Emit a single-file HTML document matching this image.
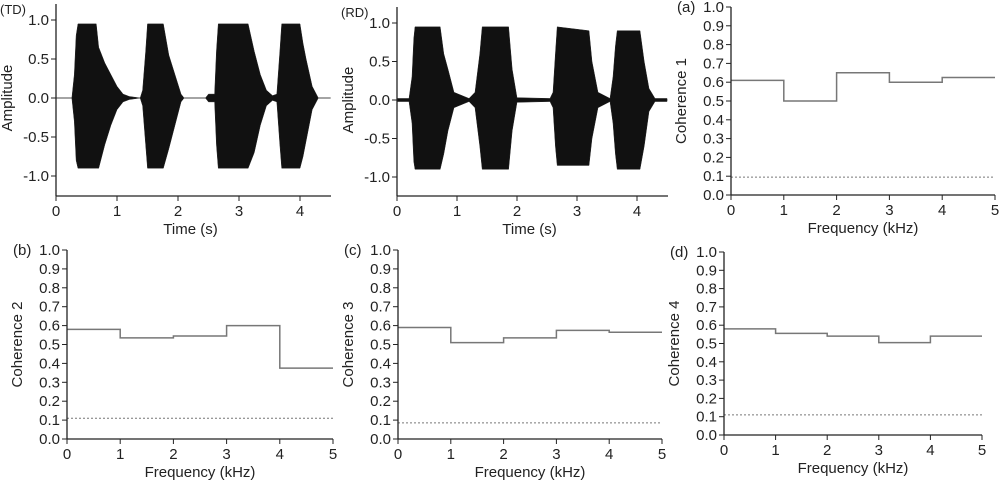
<!DOCTYPE html>
<html><head><meta charset="utf-8"><style>
body{margin:0;background:#fff;width:1000px;height:484px;overflow:hidden}
svg{font-family:"Liberation Sans",Arial,sans-serif}
</style></head><body>
<svg id="fig" width="1000" height="484" viewBox="0 0 1000 484" xmlns="http://www.w3.org/2000/svg"></svg>
<script>
// Waveform envelope data (time s, upper amp, lower amp)
const tdTimes=[0,0.26,0.3,0.33,0.36,0.66,0.7,0.8,0.9,1.0,1.1,1.2,1.38,1.42,1.47,1.5,1.76,1.85,1.95,2.05,2.1,2.45,2.5,2.6,2.63,2.66,3.15,3.25,3.35,3.45,3.55,3.62,3.67,3.7,4.0,4.05,4.1,4.2,4.3,4.5];
const tdUpper=[0,0,0.3,0.8,0.95,0.95,0.65,0.45,0.3,0.15,0.05,0.02,0,0.1,0.6,0.95,0.95,0.55,0.3,0.05,0,0,0.05,0.05,0.6,0.95,0.95,0.6,0.3,0.1,0.03,0.05,0.6,0.95,0.95,0.7,0.5,0.15,0,0];
const tdLower=[0,0,-0.3,-0.8,-0.9,-0.9,-0.9,-0.6,-0.35,-0.15,-0.05,-0.02,0,-0.1,-0.6,-0.9,-0.9,-0.65,-0.35,-0.05,0,0,-0.05,-0.05,-0.6,-0.9,-0.9,-0.7,-0.35,-0.1,-0.03,-0.05,-0.6,-0.9,-0.9,-0.75,-0.55,-0.15,0,0];
const rdTimes=[0,0.2,0.25,0.28,0.3,0.72,0.78,0.85,0.95,1.2,1.3,1.38,1.42,1.86,1.92,2.0,2.55,2.6,2.64,2.67,3.2,3.25,3.35,3.55,3.6,3.64,3.67,4.05,4.12,4.2,4.3,4.5];
const rdUpper=[0.02,0.02,0.3,0.8,0.95,0.95,0.6,0.4,0.1,0.02,0.1,0.6,0.95,0.95,0.4,0.03,0.02,0.1,0.6,0.95,0.9,0.5,0.1,0.02,0.3,0.7,0.9,0.9,0.5,0.15,0.02,0.02];
const rdLower=[-0.02,-0.02,-0.3,-0.8,-0.9,-0.9,-0.7,-0.4,-0.1,-0.02,-0.1,-0.6,-0.9,-0.9,-0.4,-0.03,-0.02,-0.1,-0.6,-0.85,-0.85,-0.5,-0.1,-0.02,-0.3,-0.7,-0.9,-0.9,-0.6,-0.15,-0.02,-0.02];
const waveTicksY=["1.0","0.5","0.0","-0.5","-1.0"];
const waveTickVals=[1,0.5,0,-0.5,-1];
const timeTicks=[0,1,2,3,4];
// Coherence data
const freqBins=[0,1,2,3,4,5];
const coh1=[0.61,0.50,0.65,0.60,0.625];
const coh2=[0.58,0.535,0.545,0.60,0.375];
const coh3=[0.59,0.51,0.535,0.575,0.565];
const coh4=[0.58,0.555,0.54,0.505,0.54];
const thresholds=[0.095,0.11,0.085,0.11];
const cohTickVals=[0,0.1,0.2,0.3,0.4,0.5,0.6,0.7,0.8,0.9,1.0];
const freqTicks=[0,1,2,3,4,5];

const NS="http://www.w3.org/2000/svg";
const svg=document.getElementById('fig');
function mk(tag,attrs,parent){const e=document.createElementNS(NS,tag);for(const k in attrs)e.setAttribute(k,attrs[k]);(parent||svg).appendChild(e);return e;}
function txt(s,x,y,anchor,parent,rot){const e=mk('text',{x:x,y:y,'text-anchor':anchor||'middle','font-size':15,fill:'#222'},parent);if(rot)e.setAttribute('transform',`rotate(-90 ${x} ${y})`);e.textContent=s;return e;}

function wavePanel(name,label,x0,x4,xEnd,y1,y0,yBottom,times,up,lo){
  const g=mk('g',{});
  
  
  const sx=t=>x0+(x4-x0)/4*t, sy=v=>y0-(y0-y1)*v;
  const base=mk('line',{x1:x0,x2:xEnd,y1:y0,y2:y0,stroke:'#aaa','stroke-width':0.8},g);
  
  
  let pts=times.map((t,i)=>sx(t)+','+sy(up[i]));
  for(let i=times.length-1;i>=0;i--)pts.push(sx(times[i])+','+sy(lo[i]));
  const p=mk('polygon',{points:pts.join(' '),fill:'#111',stroke:'#222','stroke-width':0.5},g);
  
  
  mk('line',{x1:x0,x2:x0,y1:y1-16,y2:yBottom,stroke:'#222','stroke-width':1.3},g);
  mk('line',{x1:x0,x2:xEnd,y1:yBottom,y2:yBottom,stroke:'#222','stroke-width':1.3},g);
  waveTickVals.forEach((v,i)=>{mk('line',{x1:x0-5,x2:x0,y1:sy(v),y2:sy(v),stroke:'#222'},g);const t=txt(waveTicksY[i],x0-7,sy(v)+5,'end',g);});
  timeTicks.forEach(v=>{mk('line',{x1:sx(v),x2:sx(v),y1:yBottom,y2:yBottom+5,stroke:'#222'},g);const t=txt(String(v),sx(v),yBottom+20,'middle',g);});
  const xt=txt('Time (s)',(x0+xEnd)/2-3,yBottom+38,'middle',g);
  
  
  const yt=txt('Amplitude',x0-44,y0,'middle',g,true);
  
  
  const pl=mk('text',{x:x0-56,y:y1-6,'font-size':13,fill:'#222'},g);pl.textContent=label;
  
  
}
function cohPanel(name,label,ytitle,x0,x5,y1,y0,vals,thr){
  const g=mk('g',{});
  
  
  const sx=f=>x0+(x5-x0)/5*f, sy=v=>y0-(y0-y1)*v;
  let d='';
  vals.forEach((v,i)=>{d+=(i===0?'M':'L')+sx(freqBins[i])+' '+sy(v)+' L'+sx(freqBins[i+1])+' '+sy(v)+' ';});
  const s=mk('path',{d:d,fill:'none',stroke:'#777','stroke-width':1.5},g);
  
  
  const th=mk('line',{x1:x0,x2:x5,y1:sy(thr),y2:sy(thr),stroke:'#777','stroke-width':1,'stroke-dasharray':'2,2'},g);
  
  
  mk('line',{x1:x0,x2:x0,y1:y1,y2:y0,stroke:'#222','stroke-width':1.3},g);
  mk('line',{x1:x0,x2:x5,y1:y0,y2:y0,stroke:'#222','stroke-width':1.3},g);
  cohTickVals.forEach(v=>{mk('line',{x1:x0-5,x2:x0,y1:sy(v),y2:sy(v),stroke:'#222'},g);const t=txt(v.toFixed(1),x0-7,sy(v)+5,'end',g);});
  freqTicks.forEach(v=>{mk('line',{x1:sx(v),x2:sx(v),y1:y0,y2:y0+5,stroke:'#222'},g);const t=txt(String(v),sx(v),y0+20,'middle',g);});
  const xt=txt('Frequency (kHz)',(x0+x5)/2,y0+38,'middle',g);
  
  
  const yt=txt(ytitle,x0-45,(y0+y1)/2,'middle',g,true);
  
  
  const pl=txt(label,x0-54,y1+5,'start',g);
  
  
}
wavePanel('td-waveform-panel','(TD)',56,300,331,20,98,196,tdTimes,tdUpper,tdLower);
wavePanel('rd-waveform-panel','(RD)',397,637,668,23,100,196,rdTimes,rdUpper,rdLower);
cohPanel('coherence-1-panel','(a)','Coherence 1',731,995,7,195,coh1,thresholds[0]);
cohPanel('coherence-2-panel','(b)','Coherence 2',67,333,250,439,coh2,thresholds[1]);
cohPanel('coherence-3-panel','(c)','Coherence 3',398,662,250,439,coh3,thresholds[2]);
cohPanel('coherence-4-panel','(d)','Coherence 4',724,982,252,435,coh4,thresholds[3]);
</script>
</body></html>
